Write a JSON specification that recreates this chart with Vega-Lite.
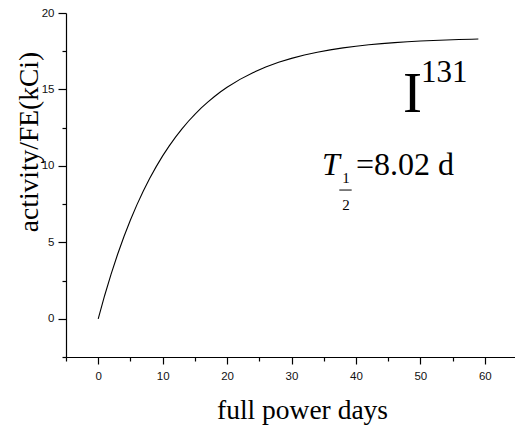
{
  "$schema": "https://vega.github.io/schema/vega-lite/v6.json",
  "autosize": "none",
  "width": 451,
  "height": 344,
  "padding": {"left": 66, "top": 13, "right": 0, "bottom": 73},
  "background": "white",
  "config": {
    "view": {"stroke": null},
    "axis": {
      "grid": false,
      "labelFont": "Liberation Sans",
      "labelFontSize": 11.5,
      "labelColor": "#111",
      "tickColor": "black",
      "domainColor": "black",
      "domainWidth": 1.2,
      "tickWidth": 1.2,
      "titleFont": "Liberation Serif",
      "titleFontSize": 27.5,
      "titleFontWeight": "normal",
      "titleColor": "black"
    }
  },
  "datasets": {
    "curve": [
      {"x": 0, "y": 0}, {"x": 1, "y": 1.524}, {"x": 2, "y": 2.922}, {"x": 3, "y": 4.205},
      {"x": 4, "y": 5.381}, {"x": 5, "y": 6.46}, {"x": 6, "y": 7.449}, {"x": 7, "y": 8.357},
      {"x": 8, "y": 9.189}, {"x": 9, "y": 9.952}, {"x": 10, "y": 10.653}, {"x": 11, "y": 11.295},
      {"x": 12, "y": 11.884}, {"x": 13, "y": 12.424}, {"x": 14, "y": 12.92}, {"x": 15, "y": 13.375},
      {"x": 16, "y": 13.791}, {"x": 17, "y": 14.174}, {"x": 18, "y": 14.525}, {"x": 19, "y": 14.846},
      {"x": 20, "y": 15.141}, {"x": 22, "y": 15.66}, {"x": 24, "y": 16.097}, {"x": 26, "y": 16.464},
      {"x": 28, "y": 16.773}, {"x": 30, "y": 17.033}, {"x": 32, "y": 17.251}, {"x": 34, "y": 17.435},
      {"x": 36, "y": 17.59}, {"x": 38, "y": 17.72}, {"x": 40, "y": 17.83}, {"x": 42, "y": 17.922},
      {"x": 44, "y": 17.999}, {"x": 46, "y": 18.064}, {"x": 48, "y": 18.119}, {"x": 50, "y": 18.165},
      {"x": 52, "y": 18.204}, {"x": 54, "y": 18.237}, {"x": 56, "y": 18.264}, {"x": 58, "y": 18.288},
      {"x": 59, "y": 18.298}
    ]
  },
  "layer": [
    {
      "data": {"name": "curve"},
      "mark": {"type": "line", "color": "black", "strokeWidth": 1.1},
      "encoding": {
        "x": {"field": "x", "type": "quantitative",
              "scale": {"domain": [-5, 65], "nice": false, "zero": false},
              "axis": {"values": [0, 10, 20, 30, 40, 50, 60], "tickSize": 7, "labelPadding": 6,
                       "title": "full power days", "titleX": 236, "titleY": 61,
                       "titleAlign": "center", "titleBaseline": "alphabetic"}},
        "y": {"field": "y", "type": "quantitative",
              "scale": {"domain": [-2.5, 20], "nice": false, "zero": false},
              "axis": {"values": [0, 5, 10, 15, 20], "tickSize": 8, "labelPadding": 4,
                       "title": "activity/FE(kCi)", "titleX": -28.5, "titleY": 128.5,
                       "titleAngle": -90, "titleAlign": "center", "titleBaseline": "alphabetic"}}
      }
    },
    {
      "data": {"name": "curve"},
      "mark": {"type": "line", "opacity": 0},
      "encoding": {
        "x": {"field": "x", "type": "quantitative",
              "scale": {"domain": [-5, 65], "nice": false, "zero": false},
              "axis": {"orient": "bottom", "values": [-5, 5, 15, 25, 35, 45, 55, 65], "tickSize": 4,
                       "labels": false, "domain": false, "title": null}},
        "y": {"field": "y", "type": "quantitative",
              "scale": {"domain": [-2.5, 20], "nice": false, "zero": false},
              "axis": {"orient": "left", "values": [-2.5, 2.5, 7.5, 12.5, 17.5], "tickSize": 4,
                       "labels": false, "domain": false, "title": null}}
      }
    },
    {
      "data": {"values": [{"x": 47.3, "y": 13.53, "label": "I"}]},
      "mark": {"type": "text", "font": "Liberation Serif", "fontSize": 57, "align": "left", "baseline": "alphabetic", "color": "black"},
      "encoding": {
        "x": {"field": "x", "type": "quantitative", "scale": {"domain": [-5, 65], "nice": false, "zero": false}, "axis": null},
        "y": {"field": "y", "type": "quantitative", "scale": {"domain": [-2.5, 20], "nice": false, "zero": false}, "axis": null},
        "text": {"field": "label"}
      }
    },
    {
      "data": {"values": [{"x": 50.1, "y": 15.49, "label": "131"}]},
      "mark": {"type": "text", "font": "Liberation Serif", "fontSize": 31, "align": "left", "baseline": "alphabetic", "color": "black"},
      "encoding": {
        "x": {"field": "x", "type": "quantitative", "scale": {"domain": [-5, 65], "nice": false, "zero": false}, "axis": null},
        "y": {"field": "y", "type": "quantitative", "scale": {"domain": [-2.5, 20], "nice": false, "zero": false}, "axis": null},
        "text": {"field": "label"}
      }
    },
    {
      "data": {"values": [{"x": 34.73, "y": 9.41, "label": "T"}]},
      "mark": {"type": "text", "font": "Liberation Serif", "fontSize": 32, "fontStyle": "italic", "align": "left", "baseline": "alphabetic", "color": "black"},
      "encoding": {
        "x": {"field": "x", "type": "quantitative", "scale": {"domain": [-5, 65], "nice": false, "zero": false}, "axis": null},
        "y": {"field": "y", "type": "quantitative", "scale": {"domain": [-2.5, 20], "nice": false, "zero": false}, "axis": null},
        "text": {"field": "label"}
      }
    },
    {
      "data": {"values": [{"x": 40.01, "y": 9.41, "label": "=8.02 d"}]},
      "mark": {"type": "text", "font": "Liberation Serif", "fontSize": 32, "align": "left", "baseline": "alphabetic", "color": "black"},
      "encoding": {
        "x": {"field": "x", "type": "quantitative", "scale": {"domain": [-5, 65], "nice": false, "zero": false}, "axis": null},
        "y": {"field": "y", "type": "quantitative", "scale": {"domain": [-2.5, 20], "nice": false, "zero": false}, "axis": null},
        "text": {"field": "label"}
      }
    },
    {
      "data": {"values": [{"x": 38.46, "y": 8.88, "label": "1"}, {"x": 38.46, "y": 7.12, "label": "2"}]},
      "mark": {"type": "text", "font": "Liberation Serif", "fontSize": 15, "align": "center", "baseline": "alphabetic", "color": "black"},
      "encoding": {
        "x": {"field": "x", "type": "quantitative", "scale": {"domain": [-5, 65], "nice": false, "zero": false}, "axis": null},
        "y": {"field": "y", "type": "quantitative", "scale": {"domain": [-2.5, 20], "nice": false, "zero": false}, "axis": null},
        "text": {"field": "label"}
      }
    },
    {
      "data": {"values": [{"x": 37.42, "x2": 39.34, "y": 8.42}]},
      "mark": {"type": "rule", "color": "black", "strokeWidth": 1},
      "encoding": {
        "x": {"field": "x", "type": "quantitative", "scale": {"domain": [-5, 65], "nice": false, "zero": false}, "axis": null},
        "x2": {"field": "x2"},
        "y": {"field": "y", "type": "quantitative", "scale": {"domain": [-2.5, 20], "nice": false, "zero": false}, "axis": null}
      }
    }
  ],
  "resolve": {"axis": {"x": "independent", "y": "independent"}}
}
